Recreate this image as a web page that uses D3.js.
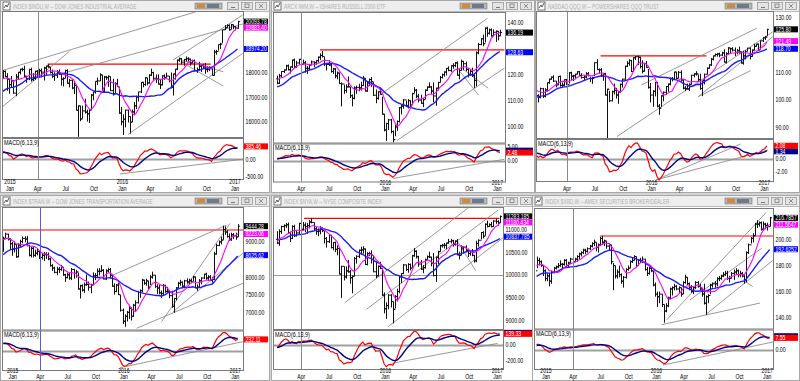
<!DOCTYPE html>
<html><head><meta charset="utf-8">
<script src="https://cdn.jsdelivr.net/npm/d3@7"></script>
<style>body{margin:0;background:#d4d4d4}svg{display:block}</style>
</head><body><svg id="c" width="800" height="381"></svg>
<script>
// ---------------- DATA (weekly bars) ----------------
const dowClose=[18053,17833,17737,17511,17672,17165,17824,18019,18140,18133,17856,17749,18128,17713,17763,18058,17826,18080,18024,18191,18272,18232,18011,17849,17898,18016,17947,17730,17760,18086,17568,17690,17373,17477,16460,16643,16102,16433,16385,16315,16472,17084,17216,17646,17663,17910,17245,17824,17798,17848,17265,17128,17552,17425,16346,15988,16094,16466,16205,15974,16392,16640,17006,17213,17602,17516,17793,17577,17898,18004,17774,17741,17535,17501,17873,17807,17865,17675,17400,17949,18147,18516,18571,18432,18544,18576,18553,18395,18492,18085,18124,18262,18308,18240,18138,18146,18161,17888,18848,18868,19153,19171,19757,19843,19934,19763,19964,19886,19827,20094];
const dowHigh=[18103,18089,17983,17751,17866,17697,17952,18033,18164,18207,18288,17876,18167,18206,17980,18082,18105,18160,18175,18240,18290,18351,18232,18127,18017,18105,18137,17950,17815,18120,18137,17740,17718,17638,17511,16655,16646,16650,16933,16490,16493,17127,17216,17646,17799,17978,17913,17866,17868,17895,17844,17751,17611,17750,17405,16593,16290,16486,16486,16210,16491,16795,17063,17220,17620,17626,17815,17790,17939,18168,18038,17925,17934,17711,17891,17931,18003,17866,18011,17962,18158,18537,18622,18605,18560,18668,18637,18580,18532,18538,18212,18449,18325,18372,18400,18260,18262,18177,18934,18934,19153,19225,19757,19953,19987,19982,20000,19974,19909,20126];
const dowLow=[17780,17820,17262,17136,17402,17136,17037,17702,17925,18055,17825,17589,17695,17636,17664,17710,17800,17810,17840,17678,17908,18209,17970,17786,17664,17783,17920,17469,17437,17770,17550,17399,17324,17126,16451,15370,16013,16116,16329,16000,15942,16465,16866,17140,17497,17660,17237,17210,17708,17422,17247,17061,17138,17420,16314,15842,15450,15761,15960,15503,15975,16258,16511,16821,17167,17400,17459,17484,17550,17861,17711,17580,17511,17332,17481,17712,17800,17602,17356,17063,17713,18105,18447,18339,18285,18460,18460,18287,18381,18077,17992,18094,18031,18154,17959,18022,18060,17884,17884,18735,18903,18970,19218,19750,19842,19719,19775,19777,19731,19800];
const dowPrior=[16493,16554,16663,17001,17098,17138,16988,17280,17113,17009,16544,16380,16805,17391,17573,17634,17810,17828,17959,17280,17804];

const iwmClose=[116.7,119.6,121.2,121.8,123.4,121.9,123.0,125.6,123.1,124.5,125.9,124.0,124.5,122.4,122.4,123.7,124.9,124.6,125.4,126.7,127.4,127.0,124.2,123.9,123.7,121.2,122.2,119.5,120.6,116.6,116.4,113.9,115.3,115.3,111.9,110.9,114.9,115.1,114.9,115.8,118.6,113.7,116.8,118.1,117.3,112.1,110.9,113.4,112.4,104.8,98.7,101.2,102.6,98.1,95.0,99.9,102.0,107.3,107.9,110.3,108.1,110.0,108.3,112.7,114.0,111.7,110.2,109.0,110.4,114.0,115.2,115.3,113.7,111.8,114.8,117.0,118.9,120.0,121.0,122.4,121.6,123.4,123.5,124.5,119.8,121.6,125.1,124.2,122.0,120.1,121.2,119.6,117.8,128.4,131.6,133.8,131.9,137.9,135.9,137.2,134.9,136.3,136.7,134.9,136.2];
const iwmHigh=[119.6,120.3,121.3,122.0,123.8,123.9,123.1,125.8,126.2,125.3,126.1,126.4,125.8,125.3,123.3,124.1,125.4,125.1,125.6,127.0,128.2,129.1,126.8,124.4,125.5,124.4,122.6,122.5,121.2,120.8,117.0,116.1,116.3,119.3,115.3,112.4,115.5,115.8,116.5,117.3,119.5,118.6,117.3,118.5,119.1,117.1,114.3,113.6,114.5,111.5,104.9,101.5,103.0,103.0,98.5,100.8,102.4,107.5,108.5,110.6,110.0,110.6,110.2,113.0,115.2,114.5,112.6,112.3,111.0,114.3,115.5,117.0,115.6,117.0,115.0,117.2,119.5,120.4,121.3,122.5,123.2,123.6,124.4,124.9,125.1,122.2,125.8,125.3,125.0,122.4,122.0,122.7,120.1,128.9,132.2,134.0,135.4,138.2,138.4,137.7,137.8,137.4,137.0,136.8,137.3];
const iwmLow=[116.3,116.4,118.9,120.6,121.6,121.6,120.4,122.6,122.3,122.6,123.9,123.7,123.8,120.8,120.3,121.7,123.6,122.9,123.8,124.7,125.7,126.6,123.3,121.6,123.3,120.8,120.3,118.6,118.2,116.4,107.8,112.6,113.0,115.1,111.0,107.8,110.5,112.6,113.6,113.9,115.6,113.5,113.4,115.6,115.3,111.8,109.0,110.4,112.3,104.6,98.2,94.5,98.7,97.4,93.6,96.3,98.4,101.6,104.7,106.9,107.6,107.0,107.6,108.9,112.9,111.0,109.3,108.8,107.5,110.5,113.7,114.9,112.6,109.4,108.0,113.9,117.0,118.5,119.2,119.7,121.3,121.0,122.3,122.9,119.6,118.2,121.5,121.7,121.3,118.9,119.6,119.1,114.9,115.5,127.8,131.3,130.9,132.4,134.6,135.4,134.6,134.8,132.6,133.2,134.9];
const iwmPrior=[117.0,114.9,113.4,111.0,110.6,106.5,108.3,111.9,117.2,116.8,117.2,117.2,116.9,117.6,113.8,118.6,120.5,118.9,118.0,117.6,118.4];

const qqqClose=[101.6,100.9,104.1,101.4,103.6,106.3,107.6,108.3,106.9,105.5,108.6,105.3,105.4,107.4,105.6,109.9,108.7,108.8,109.4,110.3,109.0,108.2,108.4,109.6,108.9,107.8,107.9,113.6,111.1,111.0,109.0,109.6,101.8,103.9,99.7,103.0,103.5,101.8,103.0,105.7,107.6,112.3,113.4,114.4,110.4,115.4,115.8,115.6,112.2,110.5,113.3,111.9,104.6,101.8,103.2,106.4,97.7,97.0,101.5,102.8,104.9,105.8,107.9,107.6,110.2,107.9,110.1,107.3,104.3,104.1,104.0,105.7,109.0,109.5,109.5,107.4,104.2,107.1,109.4,111.6,112.8,114.9,116.1,116.6,116.8,116.4,117.2,113.8,117.0,119.0,118.7,118.2,117.3,118.0,117.6,113.5,116.1,117.7,118.9,115.9,118.2,119.6,120.4,118.3,121.6,122.7,123.0,125.8];
const qqqHigh=[103.3,102.1,104.5,104.4,104.3,106.4,107.8,108.6,109.0,106.9,108.7,108.9,106.4,107.5,107.7,110.2,110.3,109.2,109.6,110.5,110.6,109.8,109.0,110.2,110.2,108.5,108.5,113.7,114.9,111.5,111.6,109.9,109.9,104.1,103.3,103.4,106.0,104.4,103.2,106.0,107.8,112.5,114.2,114.9,114.6,115.6,116.0,116.2,115.8,114.5,113.4,114.2,111.3,106.2,103.6,106.6,106.6,98.5,101.7,103.1,105.1,106.0,108.2,108.4,110.3,110.3,110.6,110.8,107.6,105.1,106.0,106.1,109.2,109.8,110.5,109.3,109.6,107.3,109.6,111.9,113.0,115.3,116.2,117.0,117.2,117.3,117.6,118.5,117.4,119.3,119.0,119.3,119.2,118.6,119.5,117.7,118.0,118.2,119.1,119.2,118.5,120.5,120.5,120.6,121.8,122.9,123.4,126.0];
const qqqLow=[100.0,99.1,100.6,100.7,100.9,103.1,105.9,107.4,106.6,104.6,105.4,104.8,104.7,105.0,105.5,106.0,107.3,106.9,107.7,109.4,108.9,107.8,107.2,107.9,108.6,106.5,105.9,108.8,110.9,109.6,108.4,107.0,101.6,86.1,99.2,99.5,102.0,100.5,98.6,102.5,104.5,107.4,112.0,112.5,110.2,110.3,114.6,112.7,111.5,109.7,110.3,111.8,104.1,99.1,97.5,101.3,97.3,94.6,97.5,99.5,101.8,103.0,105.3,106.8,107.3,107.5,107.8,106.8,103.9,103.2,103.8,103.3,105.6,108.3,108.9,106.8,103.7,101.4,105.7,109.3,111.4,112.4,114.4,115.9,115.8,115.6,116.0,113.7,113.3,116.7,117.0,117.7,116.0,116.7,116.9,113.3,112.9,114.8,117.8,114.8,115.8,118.1,119.4,117.9,118.4,121.2,121.9,123.4];
const qqqPrior=[97.5,98.7,99.3,99.8,99.5,100.7,99.5,99.6,95.3,94.8,99.6,101.5,102.0,103.5,104.4,105.2,104.4,101.3,104.0,105.0,102.9];

const tranClose=[9100,9220,9080,8950,8790,8930,8580,8910,9010,9100,9080,8900,8620,8820,8620,8680,8730,8560,8620,8640,8640,8520,8330,8260,8140,8230,8220,8290,8070,7990,8070,7980,8220,8110,8150,7670,7760,7640,7790,7800,7720,7780,8040,8050,8170,8170,8200,7950,8180,8220,8060,7750,7600,7780,7510,7070,6760,6900,7010,7120,6900,7210,7280,7570,7620,7920,7830,7900,7720,8010,8060,7740,7700,7560,7540,7770,7600,7610,7480,7180,7400,7700,7830,7860,7750,7900,7870,7900,7880,8010,7700,7720,7900,7980,8090,7980,8010,7920,7940,8660,8900,9000,9050,9350,9280,9150,9060,9200,9170,9140,9444];
const tranHigh=[9150,9260,9230,9110,9000,9010,8940,8960,9060,9150,9160,9170,8920,8860,8880,8780,8810,8750,8690,8720,8710,8700,8560,8380,8300,8300,8290,8350,8280,8100,8130,8120,8260,8240,8210,8130,7790,7800,7850,8080,7880,7820,8140,8120,8250,8260,8340,8230,8230,8270,8260,8070,7830,7810,7840,7500,7120,6950,7050,7180,7150,7250,7350,7620,7660,7960,7930,7960,7900,8060,8160,8060,7800,7780,7630,7810,7790,7730,7640,7620,7420,7720,7870,7930,7880,7930,7970,7960,7960,8040,8020,7800,7950,8000,8100,8130,8060,8060,8010,8720,8950,9040,9150,9460,9440,9330,9240,9260,9250,9260,9500];
const tranLow=[8720,9070,9040,8780,8610,8700,8550,8560,8860,8960,8990,8870,8590,8560,8560,8580,8620,8520,8500,8460,8520,8480,8300,8180,8110,8060,8120,8180,8040,7870,7970,7930,7920,7960,7990,7650,7400,7600,7560,7760,7620,7550,7780,7920,7980,8050,8140,7940,7920,8140,7980,7730,7510,7580,7500,7030,6680,6600,6750,6820,6780,6880,7050,7260,7420,7580,7790,7760,7660,7780,7960,7700,7530,7520,7420,7500,7560,7570,7410,7140,7000,7350,7700,7760,7690,7700,7820,7810,7830,7860,7690,7620,7700,7800,7950,7930,7900,7890,7850,7930,8640,8880,8930,9060,9200,9120,9030,9030,9080,9060,9140];
const tranPrior=[8260,8100,8150,8250,8430,8500,8550,8460,8630,8520,8450,8150,8200,8600,8880,8990,9050,9170,9220,9150,8860];

const nyaClose=[10700,10950,11060,11080,11100,10930,10800,11060,10860,10920,11130,11000,11090,11060,11080,11160,11150,11010,10950,10960,11000,10970,10800,10730,10870,10600,10710,10560,10580,10020,10190,9960,10090,10070,9940,9970,10360,10410,10540,10550,10570,10230,10470,10470,10430,10070,9980,10190,10140,9560,9260,9330,9560,9420,9250,9530,9640,9960,10030,10220,10120,10230,10150,10420,10520,10400,10240,10130,10160,10340,10400,10390,10260,9990,10390,10510,10640,10650,10650,10700,10730,10750,10670,10740,10440,10430,10590,10610,10540,10470,10510,10430,10310,10690,10760,10930,10850,11110,11060,11100,11060,11180,11170,11140,11283];
const nyaHigh=[10960,11000,11080,11110,11140,11150,10950,11090,11100,10980,11140,11180,11160,11150,11140,11200,11240,11150,11050,11020,11070,11050,10960,10830,10890,10870,10720,10730,10650,10580,10200,10190,10190,10330,10110,9990,10390,10430,10560,10620,10630,10580,10500,10510,10540,10420,10300,10210,10290,10120,9620,9400,9580,9580,9420,9560,9700,9980,10040,10240,10230,10260,10250,10440,10590,10540,10420,10330,10220,10360,10430,10510,10400,10480,10400,10530,10660,10680,10700,10710,10790,10790,10770,10760,10790,10510,10650,10630,10650,10580,10540,10570,10440,10750,10780,10940,10960,11130,11190,11130,11160,11200,11230,11200,11300];
const nyaLow=[10680,10640,10900,10960,11030,10910,10720,10790,10830,10840,10900,10970,10980,10940,10900,11020,11130,10970,10880,10850,10890,10940,10690,10600,10700,10580,10540,10500,10430,10010,9500,9880,9920,10050,9810,9600,9970,10250,10370,10440,10470,10220,10210,10410,10250,10060,9930,9970,10130,9540,9160,9040,9250,9290,8940,9270,9420,9600,9820,10020,10090,10050,10100,10160,10400,10360,10180,10110,10040,10140,10320,10370,10190,9970,9850,10240,10510,10600,10580,10560,10680,10690,10620,10640,10430,10340,10430,10470,10500,10390,10420,10410,10270,10280,10620,10780,10800,10860,11040,11050,11040,11050,11120,11080,11140];
const nyaPrior=[11080,10960,11010,10860,10760,10380,10350,10640,10900,10920,10880,10990,10890,10950,10500,10840,10940,10780,10690,10620,10780];

const xbdClose=[184,183,180,176,170,172,168,175,178,179,180,181,181,184,180,182,185,183,185,187,189,190,192,191,193,195,197,198,194,196,201,198,199,195,196,183,180,172,175,173,168,171,177,178,183,184,187,180,184,184,185,177,174,178,176,165,158,156,158,150,145,149,155,162,163,164,162,163,158,167,171,166,163,160,163,167,164,162,158,151,156,157,165,166,166,170,170,172,173,174,170,170,174,175,176,173,174,172,169,190,196,201,203,212,212,213,208,212,211,210,216.8];
const xbdHigh=[187,186,184,180,177,174,174,176,179,180,182,184,182,185,185,183,186,187,186,188,190,191,193,193,194,196,198,200,198,197,202,203,200,199,197,196,182,180,177,180,174,172,178,180,184,186,188,187,185,186,187,185,179,179,179,176,167,160,160,158,150,151,156,163,164,166,165,164,163,168,173,171,167,165,164,168,168,166,163,166,157,158,166,167,168,171,172,173,175,176,176,172,175,177,178,177,176,175,173,191,197,202,205,213,215,214,214,214,213,213,217.5];
const xbdLow=[178,180,179,172,168,168,164,166,174,177,178,179,177,180,179,179,181,182,183,183,185,187,189,189,190,192,194,195,191,190,195,196,195,193,192,181,161,170,170,171,166,163,170,176,178,182,184,179,180,182,182,176,172,173,175,164,156,148,151,148,136,144,148,154,157,161,161,159,156,158,166,165,161,159,158,162,163,161,156,150,142,151,158,163,163,164,168,169,171,172,169,167,170,169,173,171,171,171,166,167,189,197,198,203,209,210,207,207,208,207,210];
const xbdPrior=[166,162,162,165,168,169,171,170,172,170,169,162,161,167,175,178,179,181,181,184,176];

const firstWeek={dow:'2014-12-26',iwm:'2015-01-30',qqq:'2015-01-09',tran:'2014-12-19',nya:'2015-01-30',xbd:'2014-12-19'};
const titles={dow:'INDEX $INDU,W -- DOW JONES INDUSTRIAL AVERAGE',iwm:'ARCX IWM,W -- ISHARES RUSSELL 2000 ETF',qqq:'NASDAQ QQQ,W -- POWERSHARES QQQ TRUST',tran:'INDEX $TRAN,W -- DOW JONES TRANSPORTATION AVERAGE',nya:'INDEX $NYA,W -- NYSE COMPOSITE INDEX',xbd:'INDEX $XBD,W -- AMEX SECURITIES BROKER/DEALER'};
const priceTicks={dow:[16000,17000,18000,19000,20000],iwm:[100,110,120,130,140],qqq:[90,100,110,120,130],tran:[7000,7500,8000,8500,9000,9500],nya:[9000,9500,10000,10500,11000],xbd:[140,160,180,200,220]};
const macdTicks={dow:[500,0,-500],iwm:[5,0],qqq:[2,0,-2],tran:[],nya:[200,0,-200],xbd:[10,0]};
const priceTags={dow:['20093.78','19883.40','18974.20'],iwm:['136.19',null,'128.63'],qqq:['125.80','121.49','118.70'],tran:['9444.28','9223.06','8625.62'],nya:['11283.185','11180.434','10837.785'],xbd:['216.7857','211.5647','192.6252']};
const macdTags={dow:['385.46',null],iwm:['2.48','3.05'],qqq:['2.08','1.34'],tran:['232.11',null],nya:['139.33','152.10'],xbd:['7.55','8.60']};
const redLines={dow:['2015-05-21','2016-11-01',18351],iwm:['2015-06-19','2017-02-11',129.5],qqq:['2015-08-06','2016-07-15',116.1],tran:['2014-12-12','2017-02-13',9336],nya:['2015-04-28','2017-01-26',11241],xbd:['2015-07-16','2017-02-13',202.8]};
const trendLines={
 dow:[['2014-12-23',18083,'2016-09-25',20542],['2014-12-23',16582,'2015-07-30',18862],['2015-06-19',17906,'2017-02-13',19996],['2016-02-07',15475,'2017-02-13',18795],['2016-07-02',18520,'2017-02-13',20365],['2016-07-29',18520,'2016-12-12',18041],['2016-08-14',18316,'2016-12-12',17455]],
 iwm:[['2015-12-27',111.8,'2016-12-18',141.7],['2016-02-25',94.6,'2017-02-11',122.5],['2016-09-24',122.5,'2016-12-20',114.8],['2016-09-19',121.2,'2016-11-18',112.2]],
 qqq:[['2015-12-17',105.5,'2016-12-25',126.2],['2015-09-28',86.6,'2017-02-15',124.9],['2016-06-18',101.2,'2017-02-15',123.1],['2016-06-18',101.2,'2016-12-05',110.7]],
 tran:[['2015-12-15',8065,'2016-12-22',9477],['2016-03-01',6559,'2017-02-13',7831],['2016-05-22',6746,'2017-01-02',9525],['2016-06-29',7028,'2017-02-13',8678]],
 nya:[['2015-09-08',9394,'2016-10-18',11481],['2015-11-18',9249,'2017-01-22',11422],['2016-01-28',8869,'2017-02-11',10838],['2016-09-08',10766,'2016-11-09',10094]],
 xbd:[['2016-02-22',138.2,'2017-01-15',220.8],['2016-02-05',134.4,'2016-12-26',151.1],['2016-05-09',153.6,'2017-01-01',193.4],['2016-07-03',142.8,'2017-02-06',183.9],['2016-11-01',169,'2016-12-02',163.8]]
};
const macdTrend={dow:[['2016-01-11',-426,'2017-02-13',6]],iwm:[['2016-02-14',-5.1,'2017-02-11',0.5]],qqq:[['2016-02-01',-3.3,'2016-11-03',2.36],['2016-02-01',-3.3,'2017-01-31',1.42]],tran:[['2016-01-06',-334,'2017-02-13',186]],nya:[['2016-02-08',-229,'2017-01-20',20]],xbd:[['2016-02-10',-9.4,'2017-02-13',5.2]]};
const grayHLines={nya:[10000]};

// ---------------- LAYOUT ----------------
const layout={
 dow:{win:[0,0,270,193],tb:11,pl:2,pr:243,pt:11,pb:137,mt:138,mb:179,xa:4.5,xb:237.5,yd:[15365,20529],md:[-574,632],cur:'#8a8a8a'},
 iwm:{win:[271,0,264,193],tb:11,pl:273,pr:505,pt:12,pb:142.5,mt:143.5,mb:181.5,xa:268.3,xb:499.8,yd:[93.9,144.1],md:[-6.03,5.15],cur:'#8a8a8a'},
 qqq:{win:[535,0,265,193],tb:11,pl:536,pr:773,pt:11,pb:138,mt:139,mb:181,xa:533.7,xb:766.9,yd:[86.1,132.5],md:[-3.46,3.15],cur:'#8a8a8a'},
 tran:{win:[0,195,270,186],tb:11,pl:2,pr:243,pt:207,pb:329.5,mt:330.5,mb:370,xa:7.2,xb:237.7,yd:[6525,9986],md:[-380,410],cur:'#5c5cc8'},
 nya:{win:[271,195,264,186],tb:11,pl:273,pr:503,pt:207,pb:329,mt:330,mb:369,xa:268.3,xb:499.8,yd:[8818,11488],md:[-300,187.5],cur:'#8a8a8a'},
 xbd:{win:[532,195,268,186],tb:11,pl:534,pr:773,pt:208,pb:328.5,mt:329.5,mb:369,xa:540.5,xb:769.6,yd:[131.5,224.4],md:[-11.9,12.8],cur:'#8a8a8a'}
};
const series={dow:[dowClose,dowHigh,dowLow,dowPrior],iwm:[iwmClose,iwmHigh,iwmLow,iwmPrior],qqq:[qqqClose,qqqHigh,qqqLow,qqqPrior],tran:[tranClose,tranHigh,tranLow,tranPrior],nya:[nyaClose,nyaHigh,nyaLow,nyaPrior],xbd:[xbdClose,xbdHigh,xbdLow,xbdPrior]};

const FONT="'Liberation Sans', Arial, sans-serif";
const svg=d3.select('#c');
svg.append('rect').attr('width',800).attr('height',381).attr('fill','#d4d4d4');
const P=d3.utcParse('%Y-%m-%d');
function sma(a,n){return a.map((v,i)=>d3.mean(a.slice(Math.max(0,i-n+1),i+1)));}
function ema(a,n){const k=2/(n+1),o=[];a.forEach((v,i)=>o.push(i?o[i-1]+k*(v-o[i-1]):v));return o;}
function label(g,x,y,s,opt={}){
  const sx=opt.sx||0.75;
  return g.append('text').attr('transform',`translate(${x},${y}) scale(${sx},1)`)
   .attr('font-family',FONT).attr('font-size',opt.fs||7).attr('fill',opt.fill||'#000')
   .attr('text-anchor',opt.anchor||'start').text(s);
}
let clipId=0;
function clip(g,x,y,w,h){const id='cl'+(clipId++);g.append('clipPath').attr('id',id).append('rect').attr('x',x).attr('y',y).attr('width',w).attr('height',h);return 'url(#'+id+')';}
const TAGH=6;

Object.keys(layout).forEach(key=>{
  const L=layout[key];const [C,H,Lo,PR]=series[key];
  const [wx,wy,ww,wh]=L.win;
  const g=svg.append('g');
  g.append('rect').attr('x',wx+0.5).attr('y',wy+0.5).attr('width',ww-1).attr('height',wh-1).attr('fill','#ffffff').attr('stroke','#a8a8a8');
  g.append('rect').attr('x',wx+1).attr('y',wy+1).attr('width',ww-2).attr('height',L.tb-1).attr('fill','#eeeeee');
  g.append('rect').attr('x',wx+3).attr('y',wy+2).attr('width',7).attr('height',8).attr('fill','#ffffff').attr('stroke','#555').attr('stroke-width',0.8);
  g.append('path').attr('d',`M${wx+4},${wy+8} l2,-3 l1,2 l2,-4`).attr('fill','none').attr('stroke','#333').attr('stroke-width',0.8);
  label(g,wx+13,wy+8.5,titles[key],{fill:'#b0b0b0',fs:7.2,sx:0.66});
  const bx=wx+ww-75;
  g.append('rect').attr('x',bx).attr('y',wy+3).attr('width',27).attr('height',6).attr('fill','#b8b8b8').attr('stroke','#777').attr('stroke-width',0.6);
  g.append('rect').attr('x',bx+2).attr('y',wy+4).attr('width',8).attr('height',4).attr('fill','#d08a3a');
  g.append('rect').attr('x',bx+12).attr('y',wy+4).attr('width',12).attr('height',4).attr('fill','#6c7a8c');
  [ww-43,ww-29,ww-15].forEach((o,i)=>{
    g.append('rect').attr('x',wx+o+0.5).attr('y',wy+2.5).attr('width',11).attr('height',7).attr('fill','#e4e4e4').attr('stroke','#9a9a9a').attr('stroke-width',0.8);
    const cx=wx+o+6,cy=wy+6;
    if(i===0) g.append('path').attr('d',`M${cx-2},${cy+1.5}h4`).attr('stroke','#777');
    if(i===1) g.append('rect').attr('x',cx-2).attr('y',cy-2).attr('width',4).attr('height',3.5).attr('fill','none').attr('stroke','#777').attr('stroke-width',0.8);
    if(i===2) g.append('path').attr('d',`M${cx-2},${cy-2}l4,4M${cx+2},${cy-2}l-4,4`).attr('stroke','#777').attr('stroke-width',0.8);
  });
  g.append('line').attr('x1',wx+1).attr('x2',wx+ww-1).attr('y1',wy+L.tb+0.5).attr('y2',wy+L.tb+0.5).attr('stroke','#b8b8b8');

  const dates=C.map((d,i)=>d3.utcDay.offset(P(firstWeek[key]),7*i));
  const x=d3.scaleUtc().domain([P('2015-01-01'),P('2017-01-27')]).range([L.xa,L.xb]);
  const y=d3.scaleLinear().domain(L.yd).range([L.pb,L.pt]);
  const ym=d3.scaleLinear().domain(L.md).range([L.mb,L.mt]);
  const cp=clip(g,L.pl,L.pt,L.pr-L.pl,L.pb-L.pt);
  const cm=clip(g,L.pl,L.mt,L.pr-L.pl,L.mb-L.mt);
  const pg=g.append('g').attr('clip-path',cp);
  const mg=g.append('g').attr('clip-path',cm);

  const months=d3.utcMonth.every(3).range(P('2015-01-01'),P('2017-02-01'));
  const LOFF=5.5;
  const xc=Math.round(x(P('2015-04-01'))+LOFF)+0.5;
  g.append('line').attr('x1',xc).attr('x2',xc).attr('y1',L.pt).attr('y2',L.mb).attr('stroke',L.cur).attr('stroke-width',1);

  (grayHLines[key]||[]).forEach(v=>pg.append('line').attr('x1',L.pl).attr('x2',L.pr).attr('y1',Math.round(y(v))+0.5).attr('y2',Math.round(y(v))+0.5).attr('stroke','#9a9a9a'));
  const r=redLines[key];
  pg.append('line').attr('x1',x(P(r[0]))).attr('x2',x(P(r[1]))).attr('y1',y(r[2])).attr('y2',y(r[2])).attr('stroke','#ff0000').attr('stroke-width',1.2);
  trendLines[key].forEach(t=>pg.append('line').attr('x1',x(P(t[0]))).attr('y1',y(t[1])).attr('x2',x(P(t[2]))).attr('y2',y(t[3])).attr('stroke','#8c8c8c').attr('stroke-width',0.9));
  let d='';
  C.forEach((c,i)=>{
    const xi=Math.round(x(dates[i]))+0.5;
    const o=i?C[i-1]:PR[PR.length-1];
    d+=`M${xi},${y(H[i])}V${y(Lo[i])}M${xi-1.5},${y(o)}H${xi}M${xi},${y(c)}H${xi+1.5}`;
  });
  pg.append('path').attr('d',d).attr('fill','none').attr('stroke','#111').attr('stroke-width',1);
  // indicators use the earlier weeks too, then keep the visible part
  const full=PR.concat(C),n0=PR.length;
  const ma8=sma(full,8).slice(n0),ma21=sma(full,21).slice(n0);
  const ln=d3.line().x((v,i)=>x(dates[i])).y(v=>y(v));
  pg.append('path').attr('d',ln(ma21)).attr('fill','none').attr('stroke','#1a1aff').attr('stroke-width',1.4);
  pg.append('path').attr('d',ln(ma8)).attr('fill','none').attr('stroke','#ff00ff').attr('stroke-width',1.1);

  const e6=ema(full,6),e13=ema(full,13);const macdF=e6.map((v,i)=>v-e13[i]);const sigF=ema(macdF,9);
  const macd=macdF.slice(n0),sig=sigF.slice(n0);
  const z=Math.round(ym(0))+0.5;
  mg.append('line').attr('x1',L.pl).attr('x2',L.pr).attr('y1',z).attr('y2',z).attr('stroke','#a0a0a0').attr('stroke-width',2);
  macdTrend[key].forEach(t=>mg.append('line').attr('x1',x(P(t[0]))).attr('y1',ym(t[1])).attr('x2',x(P(t[2]))).attr('y2',ym(t[3])).attr('stroke','#8c8c8c').attr('stroke-width',0.9));
  const lm=d3.line().x((v,i)=>x(dates[i])).y(v=>ym(v));
  mg.append('path').attr('d',lm(macd)).attr('fill','none').attr('stroke','#ff0000').attr('stroke-width',1.2);
  mg.append('path').attr('d',lm(sig)).attr('fill','none').attr('stroke','#00008b').attr('stroke-width',1.4);
  label(g,L.pl+2,L.mt+6.5,'MACD(6,13,9)',{fs:7,sx:0.78});

  g.append('rect').attr('x',L.pl+0.5).attr('y',L.pt+0.5).attr('width',L.pr-L.pl).attr('height',L.pb-L.pt).attr('fill','none').attr('stroke','#7a7a7a');
  g.append('rect').attr('x',L.pl+0.5).attr('y',L.mt+0.5).attr('width',L.pr-L.pl).attr('height',L.mb-L.mt).attr('fill','none').attr('stroke','#7a7a7a');

  const ax=L.pr+2.5;
  const bw=wx+ww-2-(L.pr+1);
  const tags=[];
  const cols=['#000000','#ff00ff','#0000ff'];
  priceTags[key].forEach((s,i)=>{if(s)tags.push({y:y(+s),s,c:cols[i]});});
  tags.sort((a,b)=>a.y-b.y);
  for(let i=1;i<tags.length;i++) if(tags[i].y<tags[i-1].y+TAGH) tags[i].y=tags[i-1].y+TAGH;
  const mtg=macdTags[key];
  const mt=[];
  if(mtg[0]) mt.push({y:ym(+mtg[0]),s:mtg[0],c:'#ff0000'});
  if(mtg[1]) mt.push({y:ym(+mtg[1]),s:mtg[1],c:'#00008b',hidden:Math.abs(ym(+mtg[1])-ym(+mtg[0]))<TAGH-0.5&&ym(+mtg[1])<ym(+mtg[0])});
  if(mt.length===2&&!mt[1].hidden&&mt[1].y<mt[0].y+TAGH) mt[1].y=mt[0].y+TAGH-0.5;
  const allTags=tags.concat(mt);
  const free=yy=>allTags.every(t=>Math.abs(t.y-yy)>TAGH-0.5);
  priceTicks[key].forEach(v=>{const yy=y(v);if(yy>L.pt-1&&yy<L.pb+1&&free(yy))label(g,ax,yy+2.4,v.toFixed(2));});
  macdTicks[key].forEach(v=>{const yy=ym(v);if(free(yy))label(g,ax,Math.max(yy,L.mt+3)+2.4,v.toFixed(2));});
  tags.forEach(t=>{
    g.append('rect').attr('x',L.pr+1).attr('y',t.y-TAGH/2).attr('width',bw).attr('height',TAGH).attr('fill',t.c);
    label(g,ax,t.y+2.4,t.s,{fill:'#fff',fs:6.8});
  });
  mt.slice().reverse().forEach(t=>{
    g.append('rect').attr('x',L.pr+1).attr('y',t.y-TAGH/2).attr('width',bw).attr('height',TAGH).attr('fill',t.c);
    if(!t.hidden) label(g,ax,t.y+2.4,t.s,{fill:'#fff',fs:6.8});
  });

  const wb=wy+wh;
  const mBase=Math.min(L.mb+12,wb-1.6);
  months.forEach(m=>{
    const lx=x(m)+LOFF;
    if(lx<L.pl+5||lx>L.pr-3) return;
    const mo=d3.utcFormat('%b')(m);
    if(mo==='Jan') label(g,lx,mBase-6.6,d3.utcFormat('%Y')(m),{anchor:'middle',fs:6.4,sx:0.8});
    label(g,lx,mBase,mo,{anchor:'middle',fs:6.4,sx:0.8});
  });
});
</script></body></html>
